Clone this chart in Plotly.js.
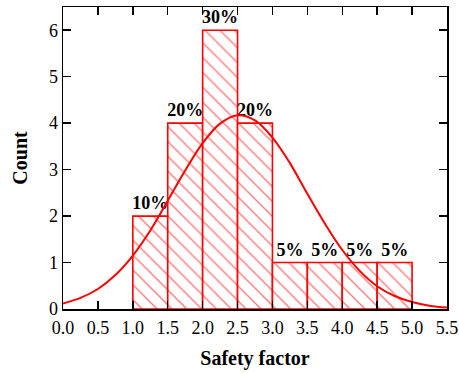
<!DOCTYPE html>
<html>
<head>
<meta charset="utf-8">
<script src="https://cdn.plot.ly/plotly-3.0.1.min.js"></script>
<style>html,body{margin:0;padding:0;background:#fff;}#chart{width:459px;height:373px;}</style>
</head>
<body>
<div id="chart"></div>
<script>
// Histogram bins (centres) and counts
var binCenters = [1.25, 1.75, 2.25, 2.75, 3.25, 3.75, 4.25, 4.75];
var counts = [2, 4, 6, 4, 1, 1, 1, 1];
var percentLabels = ['10%', '20%', '30%', '20%', '5%', '5%', '5%', '5%'];

// Fitted distribution curve
var curveX = [0, 0.25, 0.5, 0.75, 1.0, 1.25, 1.5, 1.75, 2.0, 2.25, 2.5, 2.75, 3.0, 3.25, 3.5, 3.75, 4.0, 4.25, 4.5, 4.75, 5.0, 5.25, 5.5];
var curveY = [0.12, 0.24, 0.43, 0.73, 1.15, 1.69, 2.33, 2.98, 3.57, 3.99, 4.17, 4.06, 3.69, 3.14, 2.48, 1.84, 1.27, 0.82, 0.49, 0.28, 0.15, 0.07, 0.03];

var xTicks = [0, 0.5, 1, 1.5, 2, 2.5, 3, 3.5, 4, 4.5, 5, 5.5];
var xTickText = ['0.0', '0.5', '1.0', '1.5', '2.0', '2.5', '3.0', '3.5', '4.0', '4.5', '5.0', '5.5'];
var yTicks = [0, 1, 2, 3, 4, 5, 6];

var serif = 'Liberation Serif, Times New Roman, serif';

var bars = {
  type: 'bar',
  x: binCenters,
  y: counts,
  width: 0.5,
  text: percentLabels,
  textposition: 'outside',
  constraintext: 'none',
  cliponaxis: false,
  textfont: {family: serif, size: 18, color: '#000', weight: 'bold'},
  marker: {
    color: '#ffffff',
    line: {color: '#ff0000', width: 1.6},
    pattern: {shape: '\\', fgcolor: '#ff0000', bgcolor: '#ffffff', size: 10.5, solidity: 0.14, fillmode: 'overlay'}
  },
  hoverinfo: 'skip',
  showlegend: false
};

var curve = {
  type: 'scatter',
  mode: 'lines',
  x: curveX,
  y: curveY,
  line: {color: '#ff0000', width: 2, shape: 'spline'},
  hoverinfo: 'skip',
  showlegend: false
};

var layout = {
  width: 459,
  height: 373,
  margin: {l: 63, r: 12, t: 7, b: 64},
  paper_bgcolor: '#ffffff',
  plot_bgcolor: '#ffffff',
  bargap: 0,
  font: {family: serif, size: 18, color: '#000'},
  xaxis: {
    range: [0, 5.5],
    tickvals: xTicks,
    ticktext: xTickText,
    ticks: 'inside',
    ticklen: 8,
    tickwidth: 1.5,
    tickcolor: '#000',
    showline: true,
    linewidth: 1.5,
    linecolor: '#000',
    mirror: 'ticks',
    showgrid: false,
    zeroline: false,
    ticklabelstandoff: 2,
    tickfont: {family: serif, size: 18, color: '#000'},
    title: {text: 'Safety factor', font: {family: serif, size: 20, color: '#000', weight: 'bold'}, standoff: 14}
  },
  yaxis: {
    range: [0, 6.5],
    tickvals: yTicks,
    ticks: 'inside',
    ticklen: 8,
    tickwidth: 1.5,
    tickcolor: '#000',
    showline: true,
    linewidth: 1.5,
    linecolor: '#000',
    mirror: 'ticks',
    showgrid: false,
    zeroline: false,
    tickfont: {family: serif, size: 18, color: '#000'},
    title: {text: 'Count', font: {family: serif, size: 20, color: '#000', weight: 'bold'}, standoff: 16}
  }
};

Plotly.newPlot('chart', [bars, curve], layout, {displayModeBar: false, staticPlot: true});
</script>
</body>
</html>
